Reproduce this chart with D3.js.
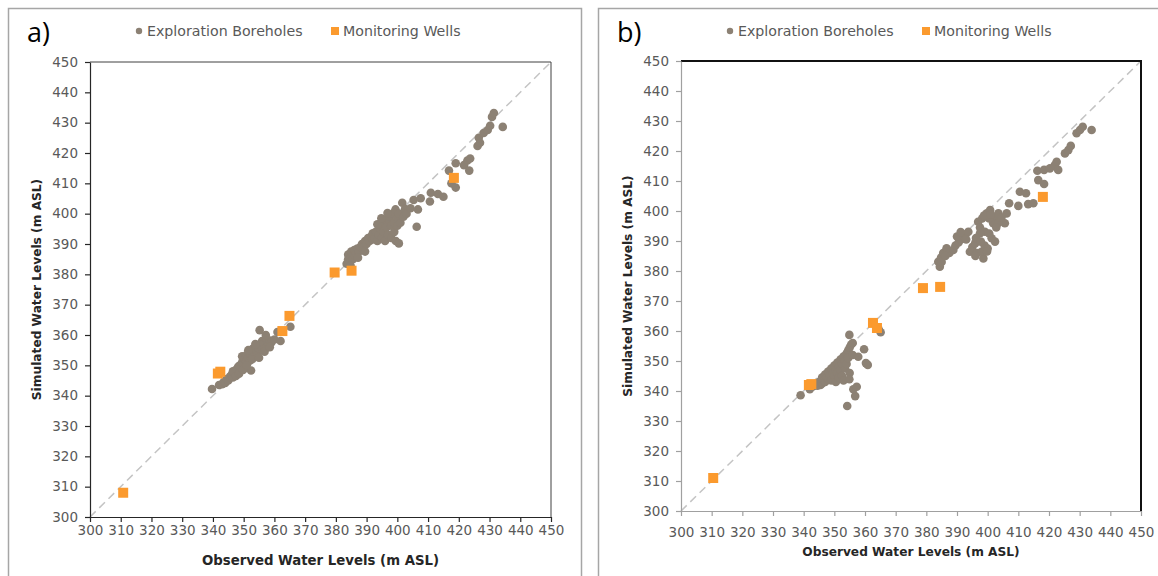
<!DOCTYPE html>
<html>
<head>
<meta charset="utf-8">
<script src="https://cdn.jsdelivr.net/npm/d3@7"></script>
<style>
  body { margin: 0; background: #fff; }
  svg { display: block; font-family: "DejaVu Sans", sans-serif; }
</style>
</head>
<body>
<svg id="chart" width="1158" height="576"></svg>
<script>
// Axis ticks (m ASL)
const tickValues = [300, 310, 320, 330, 340, 350, 360, 370, 380, 390, 400, 410, 420, 430, 440, 450];
const seriesNames = ["Exploration Boreholes", "Monitoring Wells"];

// Panel a) [observed, simulated]
const boreholesA = [
  [339.7, 342.2], [342, 343.5], [343, 343.8], [343.5, 344.5], [344, 344.2], [344.5, 345.5],
  [345, 345], [345.5, 346.2], [346, 346.8], [346.5, 346], [347, 347.5], [347.5, 348.5],
  [348, 348], [348.2, 349.5], [348.8, 350], [349, 349], [349.5, 351], [349.5, 353],
  [350, 350.5], [350.3, 352], [350.8, 351.3], [351, 353.5], [351.5, 352.5], [352, 351.5],
  [352, 354], [352.4, 348.3], [352.5, 355], [353, 353], [353, 355.5], [353.5, 354.2],
  [354, 355], [354, 356.5], [354.5, 353.5], [355, 355.5], [355.2, 361.6], [355.5, 357],
  [356, 356], [356, 358], [356.5, 357.2], [357, 355.5], [357.5, 358.5], [358, 357],
  [358.5, 358.2], [359, 357.5], [360, 358.5], [361, 361], [362, 358], [365.2, 362.7],
  [346.5, 348], [347.5, 346.5], [348.5, 347.2], [349.8, 348.5], [351, 350], [352.8, 352],
  [351.5, 355], [353.8, 357], [355, 352.5], [356.8, 354.5], [357.2, 360], [358.5, 356],
  [383.5, 383.5], [384, 385], [384, 386.5], [384.5, 384], [385, 386], [385, 387.5],
  [385.5, 385], [386, 386.5], [386, 388], [386.5, 387], [387, 388.5], [387.5, 387.5],
  [388, 389], [388.5, 390], [389, 389], [389.5, 391], [390, 390], [390.5, 392],
  [391, 391], [391.5, 392.5], [392, 391.5], [392, 393.5], [392.5, 392], [393, 394],
  [393.5, 391], [394, 393], [394.5, 395], [395, 392], [395, 396], [395.5, 394],
  [396, 391], [396, 398], [396.5, 395.5], [397, 393], [397.3, 397.9], [397.5, 399],
  [398, 396], [398, 392], [398.5, 400], [399, 397], [399, 394], [399.4, 401.4],
  [399.5, 391], [400, 398.5], [400.5, 390.2], [400, 396], [400.5, 400], [401, 397],
  [401.6, 403.6], [402, 399], [402.5, 401.5], [403, 400], [404.3, 401.8], [405.3, 404.5],
  [406.7, 401.4], [406.3, 395.7], [407.6, 405.1], [410.6, 404], [410.9, 406.9], [413.2, 406.5],
  [415, 405.6], [416.8, 414.2], [419, 416.6], [417.6, 410], [419, 408.6], [421.7, 416],
  [422.8, 417.5], [423.7, 418.2], [423.4, 414.2], [426.1, 422.3], [426.9, 423.4], [426.5, 425],
  [428.1, 426.6], [429.4, 427.6], [430.2, 429], [430.8, 431.9], [431.4, 433.2], [434.3, 428.6],
  [384.8, 382.8], [387.2, 385.5], [389.5, 387.5], [393.5, 396.5], [394.8, 398.5], [396.8, 400.2]
];
const wellsA = [
  [310.8, 308], [341.6, 347.3], [342.4, 347.9], [362.6, 361.3], [364.9, 366.3],
  [379.6, 380.6], [385.1, 381.2], [418.4, 411.8]
];

// Panel b) [observed, simulated]
const boreholesB = [
  [339, 338.6], [342, 340.6], [343, 341.5], [344, 342], [344.5, 341.8], [345, 343],
  [345.5, 342], [346, 344.5], [346, 342.5], [346.5, 343.5], [347, 345.5], [347, 343],
  [347.5, 344.5], [348, 346.5], [348, 344], [348.5, 345], [349, 347.5], [349, 343.5],
  [349.5, 346], [350, 348.5], [350, 345], [350.5, 347], [350.5, 343], [351, 349.5],
  [351, 346], [351.5, 348], [351.5, 344.5], [352, 350.5], [352, 347], [352.5, 349],
  [352.5, 345], [353, 351.5], [353, 343.5], [353.5, 350], [353.5, 347.5], [354, 352.5],
  [354, 349], [354.5, 353.5], [354.5, 351], [355, 354.5], [355, 346], [355.5, 355.5],
  [356, 356], [356, 352], [354.9, 358.7], [354.2, 335], [356.8, 338.3], [356.2, 340.6],
  [357.3, 341.4], [354.9, 343.9], [360.9, 348.7], [360.3, 349.3], [359.7, 353.9], [357.8, 351.4],
  [365.1, 359.6], [364.5, 360.5],
  [383.9, 383.1], [384.4, 381.4], [384.8, 384.5], [385.5, 386], [386.6, 387.6], [387.5, 386],
  [388.8, 387], [389.5, 388.5], [390.5, 389.5], [391.3, 390.5], [392, 391.4], [392.8, 392.2],
  [393.7, 393.1], [394.2, 386.4], [395, 388], [395.9, 389.2], [396.5, 386], [398.6, 384.2],
  [398, 386.4], [396.9, 396.4], [397.5, 394.5], [398.2, 397.5], [399.7, 399.2], [400.8, 400.3],
  [402.4, 398.1], [403.5, 399.2], [405.6, 395.9], [406.2, 399.2], [401.3, 390.9], [402.4, 389.8],
  [399.1, 393.1], [397.5, 392.6], [401.8, 395.9], [400.5, 397.5], [399, 388.5], [400, 387.5],
  [403.5, 396], [404.5, 397.8], [400.5, 392.5], [407, 402.6], [410, 401.7], [410.5, 406.4],
  [412.5, 405.9], [413.2, 402.3], [414.9, 402.6], [416.2, 413.4], [416.5, 410.3], [418.4, 409],
  [418.4, 413.7], [420.3, 414.2], [421.9, 415.3], [422.5, 416.4], [423, 413.7], [425.2, 419.2],
  [426.3, 420.3], [427.1, 421.7], [429, 425.9], [430.1, 427], [431, 428.1], [433.9, 427],
  [385, 383], [386.2, 385], [390, 391.5], [391.2, 393], [393, 390.5], [396.2, 391],
  [397.8, 389.8], [398.8, 398.5], [401, 398.8], [402.8, 394.5], [396, 385], [399.8, 386.5]
];
const wellsB = [
  [310.5, 311], [341.7, 342], [342.5, 342.3], [362.6, 362.7], [363.9, 361],
  [378.9, 374.3], [384.5, 374.7], [418, 404.7]
];

const boreColor = "#8c8174";
const wellColor = "#fb9a2e";
const textColor = "#595959";

const svg = d3.select("#chart");
svg.append("rect").attr("width", 1158).attr("height", 576).attr("fill", "#fff");

function drawPanel(opts) {
  const x = d3.scaleLinear().domain([300, 450]).range([opts.left, opts.right]);
  const y = d3.scaleLinear().domain([300, 450]).range([opts.bottom, opts.top]);

  const g = svg.append("g");

  // outer frame of the panel
  g.append("rect")
    .attr("x", opts.box[0] + 0.5).attr("y", opts.box[1] + 0.5)
    .attr("width", opts.box[2]).attr("height", opts.box[3])
    .attr("fill", "none").attr("stroke", "#a6a6a6").attr("stroke-width", 1.5);

  // panel letter
  g.append("text")
    .attr("x", opts.box[0] + 19).attr("y", 42)
    .attr("font-family", "'Open Sans', sans-serif")
    .attr("font-size", 27).attr("fill", "#000")
    .text(opts.letter);

  // 1:1 line
  g.append("line")
    .attr("x1", x(300)).attr("y1", y(300)).attr("x2", x(450)).attr("y2", y(450))
    .attr("stroke", "#c4c4c4").attr("stroke-width", 1.5).attr("stroke-dasharray", "8,5");

  // top / right frame of the plot
  g.append("path")
    .attr("d", `M${x(300)},${y(450)}H${x(450)}V${y(300)}`)
    .attr("fill", "none").attr("stroke", opts.frameColor).attr("stroke-width", opts.frameWidth);

  // axes
  const xAxis = g.append("g")
    .attr("transform", `translate(0,${opts.bottom})`)
    .call(d3.axisBottom(x).tickValues(tickValues).tickSize(5).tickSizeOuter(0));
  const yAxis = g.append("g")
    .attr("transform", `translate(${opts.left},0)`)
    .call(d3.axisLeft(y).tickValues(tickValues).tickSize(5).tickSizeOuter(0));
  [xAxis, yAxis].forEach(a => {
    a.select(".domain").attr("stroke", opts.axisColor).attr("stroke-width", 1.2);
    a.selectAll(".tick line").attr("stroke", opts.axisColor).attr("stroke-width", 1.2);
    a.selectAll(".tick text")
      .attr("fill", textColor)
      .attr("font-size", opts.tickFont)
      .attr("font-family", "'DejaVu Sans', sans-serif");
  });
  xAxis.selectAll(".tick text").attr("dy", "0.71em").attr("y", opts.xTickY);
  yAxis.selectAll(".tick text").attr("x", -12);

  // axis titles
  g.append("text")
    .attr("x", (x(300) + x(450)) / 2).attr("y", opts.xTitleY)
    .attr("text-anchor", "middle").attr("font-weight", "bold")
    .attr("font-size", opts.titleFont).attr("fill", "#262626")
    .text("Observed Water Levels (m ASL)");
  g.append("text")
    .attr("transform", `translate(${opts.yTitleX},${(y(300) + y(450)) / 2}) rotate(-90)`)
    .attr("text-anchor", "middle").attr("font-weight", "bold")
    .attr("font-size", opts.yTitleFont).attr("fill", "#262626")
    .text("Simulated Water Levels (m ASL)");

  // legend
  const lg = g.append("g").attr("transform", `translate(${opts.legendX},31)`);
  lg.append("circle").attr("cx", 0).attr("cy", 0).attr("r", 3.2).attr("fill", boreColor);
  lg.append("text").attr("x", 8).attr("y", 0).attr("dy", "0.35em")
    .attr("font-size", 14.2).attr("fill", textColor).text(seriesNames[0]);
  lg.append("rect").attr("x", 192).attr("y", -4).attr("width", 8).attr("height", 8).attr("fill", wellColor);
  lg.append("text").attr("x", 204).attr("y", 0).attr("dy", "0.35em")
    .attr("font-size", 14.2).attr("fill", textColor).text(seriesNames[1]);

  // markers
  g.append("g").selectAll("circle")
    .data(opts.bores).join("circle")
    .attr("cx", d => x(d[0])).attr("cy", d => y(d[1]))
    .attr("r", 4.3).attr("fill", boreColor);
  const s = 10;
  g.append("g").selectAll("rect")
    .data(opts.wells).join("rect")
    .attr("x", d => x(d[0]) - s / 2).attr("y", d => y(d[1]) - s / 2)
    .attr("width", s).attr("height", s).attr("fill", wellColor);
}

drawPanel({
  letter: "a)", box: [8, 8, 573, 580],
  left: 90, right: 551, top: 62, bottom: 517,
  frameColor: "#404040", frameWidth: 1, axisColor: "#262626",
  tickFont: 13.5, xTickY: 8, titleFont: 13.3, yTitleFont: 12.2,
  xTitleY: 565, yTitleX: 41, legendX: 139,
  bores: boreholesA, wells: wellsA
});

drawPanel({
  letter: "b)", box: [598, 8, 580, 580],
  left: 681, right: 1141, top: 61, bottom: 511,
  frameColor: "#111", frameWidth: 2, axisColor: "#a0a0a0",
  tickFont: 13.5, xTickY: 16, titleFont: 12.2, yTitleFont: 12.2,
  xTitleY: 556, yTitleX: 632, legendX: 730,
  bores: boreholesB, wells: wellsB
});
</script>
</body>
</html>
